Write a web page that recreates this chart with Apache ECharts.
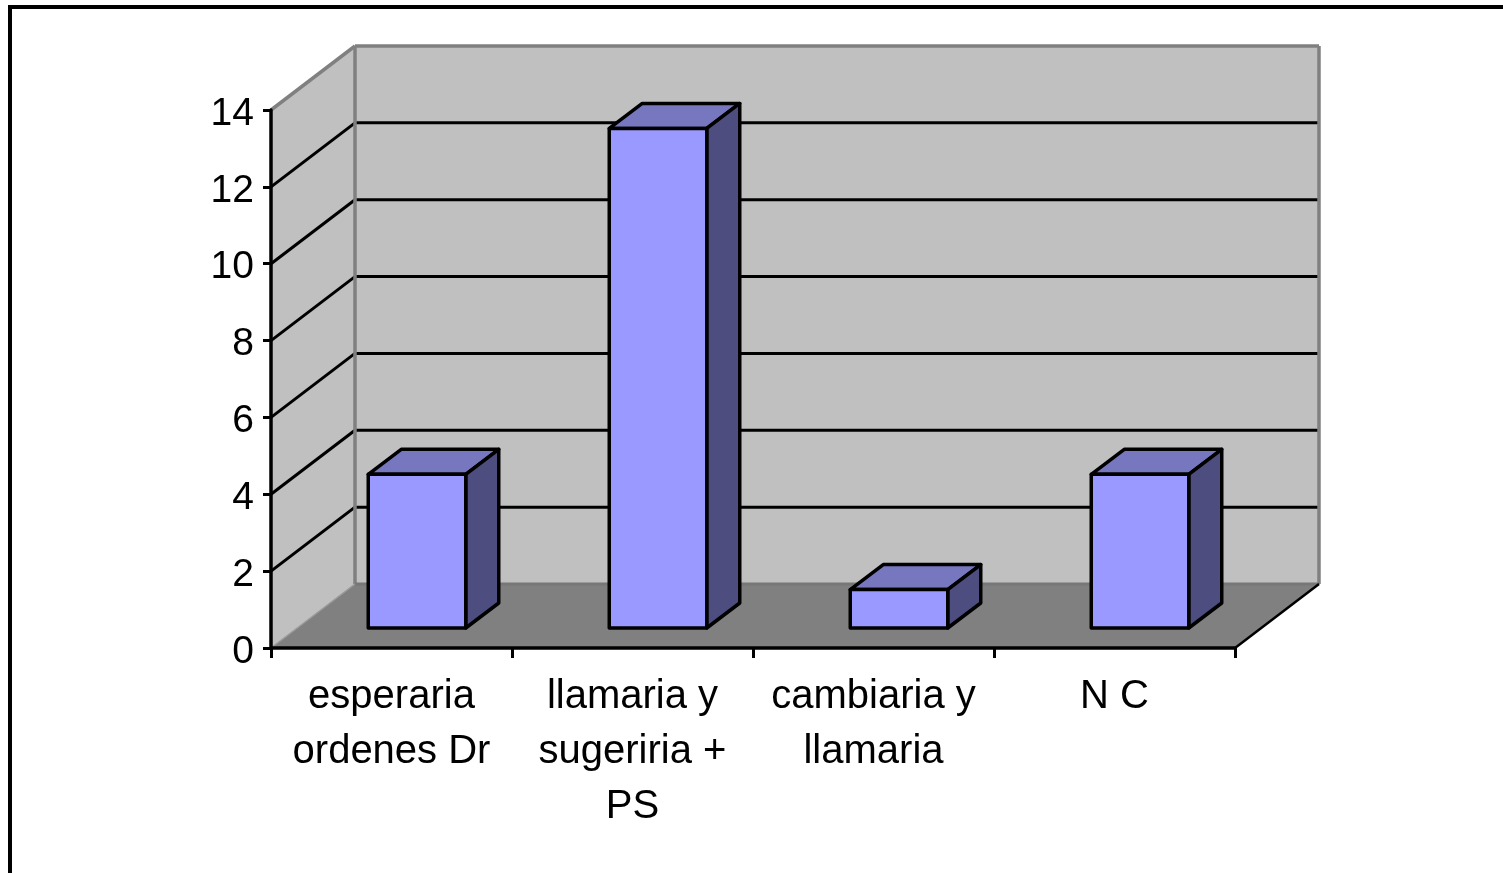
<!DOCTYPE html>
<html>
<head>
<meta charset="utf-8">
<title>Grafico</title>
<script src="https://cdn.jsdelivr.net/npm/echarts@6/dist/echarts.min.js"></script>
<style>
  html, body { margin: 0; padding: 0; background: #fff; overflow: hidden; }
  #grafico { position: absolute; left: 0; top: 0; width: 1503px; height: 873px; }
  /* marco de la hoja, solo se ven los lados superior e izquierdo */
  #marco { position: absolute; left: 8px; top: 5px; right: 0; bottom: 0;
           border-top: 4px solid #000; border-left: 4px solid #000; }
</style>
</head>
<body>
<div id="marco"></div>
<div id="grafico"></div>
<script>
// datos
const categorias = ["esperaria\nordenes Dr", "llamaria y\nsugeriria +\nPS", "cambiaria y\nllamaria", "N C"];
const valores = [4, 13, 1, 4];
const marcasY = [0, 2, 4, 6, 8, 10, 12, 14];

// perspectiva falsa, en pixeles
const FONDO_X = 84, FONDO_Y = -64;      // profundidad de las paredes
const BARRA_X = 33, BARRA_Y = -25;      // profundidad de cada barra
const BARRA_ANCHO = 97.5;
const BARRA_DESP_X = 25.5, BARRA_DESP_Y = -20;  // la barra no esta pegada al borde del suelo

const fuente = "'Liberation Sans', Arial, sans-serif";
const gris = "#808080";

function poligono(puntos, relleno, borde, grosor) {
  return {
    type: "polygon",
    shape: { points: puntos },
    style: { fill: relleno, stroke: borde, lineWidth: grosor, lineJoin: "round" }
  };
}

function linea(a, b, color, grosor) {
  return {
    type: "line",
    shape: { x1: a[0], y1: a[1], x2: b[0], y2: b[1] },
    style: { stroke: color, lineWidth: grosor, lineCap: "butt" }
  };
}

// paredes y suelo
function dibujarParedes(params, api) {
  const banda = api.size([1, 0])[0];
  const izq = api.coord([0, 0])[0] - banda / 2;
  const der = api.coord([categorias.length - 1, 0])[0] + banda / 2;
  const yBase = api.coord([0, 0])[1];
  const yTope = api.coord([0, marcasY[marcasY.length - 1]])[1];
  const atras = (x, y) => [x + FONDO_X, y + FONDO_Y];

  const hijos = [
    // suelo
    poligono([[izq, yBase], [der, yBase], atras(der, yBase), atras(izq, yBase)], gris, null, 0),
    // pared lateral
    poligono([[izq, yBase], atras(izq, yBase), atras(izq, yTope), [izq, yTope]], "#C0C0C0", null, 0),
    // pared del fondo
    poligono([atras(izq, yBase), atras(der, yBase), atras(der, yTope), atras(izq, yTope)], "#C0C0C0", null, 0)
  ];

  // lineas de division
  marcasY.slice(1, -1).forEach((v) => {
    const y = api.coord([0, v])[1];
    hijos.push(linea([izq, y], atras(izq, y), "#000", 3));
    hijos.push(linea(atras(izq, y), atras(der, y), "#000", 3));
  });

  // bordes
  hijos.push(linea([izq, yTope], atras(izq, yTope), gris, 3.5));
  hijos.push(linea(atras(izq, yTope), atras(der, yTope), gris, 3.5));
  hijos.push(linea(atras(izq, yTope), atras(izq, yBase), gris, 3.5));
  hijos.push(linea(atras(der, yTope), atras(der, yBase), gris, 3.5));
  hijos.push(linea(atras(izq, yBase), atras(der, yBase), "#777", 3));
  hijos.push(linea([izq, yBase], atras(izq, yBase), "#999", 1.5));
  hijos.push(linea([der, yBase], atras(der, yBase), "#000", 2.5));

  return { type: "group", children: hijos };
}

// cada barra: frente, tapa y lateral
function dibujarBarra(params, api) {
  const i = api.value(0);
  const arriba = api.coord([i, api.value(1)]);
  const abajo = api.coord([i, 0]);
  const x0 = abajo[0] + BARRA_DESP_X - BARRA_ANCHO / 2;
  const x1 = x0 + BARRA_ANCHO;
  const y0 = abajo[1] + BARRA_DESP_Y;
  const y1 = arriba[1] + BARRA_DESP_Y;

  return {
    type: "group",
    children: [
      poligono([[x0, y1], [x1, y1], [x1 + BARRA_X, y1 + BARRA_Y], [x0 + BARRA_X, y1 + BARRA_Y]], "#7777BF", "#000", 3.5),
      poligono([[x1, y0], [x1 + BARRA_X, y0 + BARRA_Y], [x1 + BARRA_X, y1 + BARRA_Y], [x1, y1]], "#4D4D80", "#000", 3.5),
      poligono([[x0, y0], [x1, y0], [x1, y1], [x0, y1]], "#9999FF", "#000", 3.5)
    ]
  };
}

const chart = echarts.init(document.getElementById("grafico"), null, { renderer: "canvas" });

chart.setOption({
  animation: false,
  backgroundColor: "transparent",
  grid: { left: 271, top: 110, width: 964, height: 538 },
  xAxis: {
    type: "category",
    data: categorias,
    z: 5,
    axisLine: { lineStyle: { color: "#000", width: 3.5 } },
    axisTick: { show: true, length: 10, lineStyle: { color: "#000", width: 3 } },
    axisLabel: {
      interval: 0,
      color: "#000",
      fontFamily: fuente,
      fontSize: 40,
      lineHeight: 55,
      margin: 21
    }
  },
  yAxis: {
    type: "value",
    min: 0,
    max: 14,
    interval: 2,
    z: 5,
    splitLine: { show: false },
    axisLine: { show: true, lineStyle: { color: "#000", width: 3.5 } },
    axisTick: { show: true, length: 8, lineStyle: { color: "#000", width: 3 } },
    axisLabel: {
      color: "#000",
      fontFamily: fuente,
      fontSize: 39,
      margin: 17,
      verticalAlign: "top",
      lineHeight: 8   // baja un poco el numero respecto a la marca
    }
  },
  series: [
    {
      type: "custom",
      silent: true,
      clip: false,
      z: 1,
      data: [[0, 0]],
      renderItem: dibujarParedes
    },
    {
      type: "custom",
      silent: true,
      clip: false,
      z: 2,
      data: valores.map((v, i) => [i, v]),
      encode: { x: 0, y: 1 },
      renderItem: dibujarBarra
    }
  ]
});

window.addEventListener("resize", () => chart.resize());
</script>
</body>
</html>
